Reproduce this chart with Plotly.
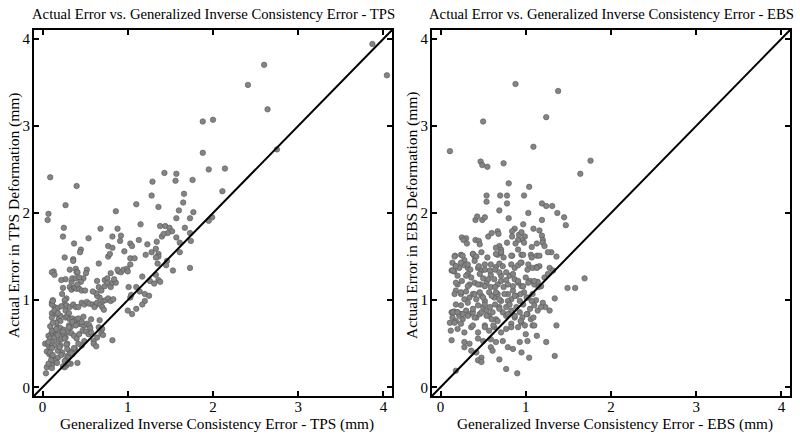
import plotly.graph_objects as go

# ---------------- data ----------------
tps_points = [
    (3.87,3.94),(4.04,3.58),(2.60,3.70),(2.41,3.47),(2.64,3.19),(1.88,3.05),(2.00,3.07),(1.88,2.69),(1.95,2.50),(2.14,2.51),
    (2.75,2.73),(2.11,2.25),(0.09,2.41),(0.40,2.31),(1.43,2.46),(1.57,2.45),(1.29,2.36),(1.56,2.37),(1.76,2.38),(1.28,2.20),(1.66,2.22),
    (0.27,2.09),(0.07,1.99),(0.06,1.92),(1.10,2.10),(1.36,2.07),(1.65,2.12),(1.60,2.03),(1.77,2.01),(1.57,1.94),(1.73,1.94),
    (1.99,1.95),(1.95,1.91),(0.86,2.02),(0.25,1.83),(0.24,1.73),(0.68,1.82),(0.88,1.82),(1.15,1.87),(1.38,1.85),(1.44,1.85),
    (1.49,1.83),(1.52,1.79),(1.47,1.77),(1.67,1.83),(1.73,1.77),(1.74,1.68),(1.61,1.66),(0.37,1.65),(0.54,1.71),(0.82,1.73),
    (0.92,1.74),(0.91,1.68),(1.03,1.65),(1.05,1.62),(1.13,1.69),(1.23,1.64),(1.34,1.67),(1.40,1.73),(1.42,1.76),(1.57,1.72),
    (1.61,1.55),(0.45,1.58),(0.44,1.55),(0.26,1.49),(0.36,1.47),(0.36,1.45),(0.66,1.42),(0.77,1.50),(0.79,1.53),(0.77,1.62),
    (0.82,1.60),(0.96,1.56),(1.03,1.48),(1.08,1.48),(1.03,1.41),(1.21,1.52),(1.28,1.55),(1.33,1.59),(1.36,1.53),(1.36,1.50),
    (1.33,1.49),(1.46,1.45),(1.45,1.40),(1.35,1.42),(1.53,1.34),(1.73,1.37),(0.13,1.33),(0.11,1.32),(0.14,1.29),(0.32,1.35),
    (0.39,1.36),(0.40,1.32),(0.41,1.32),(0.52,1.35),(0.51,1.31),(0.48,1.25),(0.27,1.24),(0.22,1.23),(0.24,1.14),(0.23,1.07),
    (0.28,1.02),(0.26,1.00),(0.32,1.15),(0.34,1.12),(0.37,1.14),(0.38,1.15),(0.40,1.13),(0.43,1.13),(0.46,1.11),(0.50,1.11),
    (0.34,1.21),(0.35,1.25),(0.39,1.25),(0.43,1.26),(0.45,1.21),(0.41,1.18),(0.64,1.22),(0.66,1.15),(0.69,1.11),(0.73,1.16),
    (0.73,1.23),(0.76,1.25),(0.80,1.31),(0.76,1.20),(0.80,1.15),(0.82,1.20),(0.86,1.20),(0.89,1.33),(0.92,1.32),(0.95,1.35),
    (0.99,1.36),(1.00,1.33),(0.84,1.24),(0.88,1.35),(1.01,1.15),(1.03,1.03),(1.04,1.06),(1.10,1.15),(1.14,1.10),(1.20,1.07),
    (1.25,1.05),(1.20,0.99),(1.17,0.95),(1.10,0.90),(1.05,0.84),(1.00,0.88),(1.17,1.27),(1.26,1.22),(1.33,1.29),(1.36,1.23),
    (1.31,1.19),(1.38,1.21),(0.12,1.00),(0.11,0.97),(0.14,0.92),(0.18,0.91),(0.11,0.85),(0.16,0.84),(0.19,0.78),(0.21,0.76),
    (0.26,0.95),(0.28,0.94),(0.32,0.92),(0.36,0.95),(0.39,0.92),(0.42,0.92),(0.46,0.97),(0.49,0.95),(0.52,0.98),(0.55,0.96),
    (0.59,0.95),(0.62,0.94),(0.61,0.92),(0.64,0.97),(0.68,0.95),(0.70,0.92),(0.72,0.89),(0.71,0.99),(0.74,1.00),(0.77,1.02),
    (0.80,0.99),(0.83,1.01),(0.67,1.03),(0.64,1.05),(0.63,1.08),(0.59,1.10),(0.27,0.80),(0.29,0.82),(0.32,0.78),(0.35,0.79),
    (0.37,0.76),(0.40,0.78),(0.43,0.73),(0.46,0.72),(0.49,0.71),(0.52,0.73),(0.55,0.71),(0.56,0.68),(0.57,0.78),(0.67,0.77),
    (0.66,0.69),(0.70,0.67),(0.69,0.62),(0.71,0.60),(0.64,0.57),(0.60,0.53),(0.60,0.50),(0.63,0.47),(0.82,0.54),(0.49,0.53),
    (0.46,0.48),(0.42,0.50),(0.38,0.44),(0.35,0.38),(0.29,0.36),(0.30,0.34),(0.27,0.31),(0.28,0.25),(0.26,0.23),(0.24,0.24),
    (0.33,0.27),(0.41,0.28),(0.32,0.41),(0.18,0.69),(0.15,0.65),(0.12,0.63),(0.10,0.61),(0.07,0.59),(0.09,0.56),(0.12,0.52),
    (0.08,0.46),(0.05,0.41),(0.08,0.38),(0.11,0.34),(0.14,0.32),(0.13,0.29),(0.11,0.26),(0.05,0.23),(0.04,0.16),(0.14,0.48),
    (0.03,0.50),(0.06,0.50),(0.19,0.53),(0.21,0.48),(0.23,0.40),(0.18,0.34),(0.21,0.68),(0.22,0.63),(0.25,0.60),(0.27,0.57),
    (0.31,0.63),(0.34,0.62),(0.37,0.59),(0.40,0.56),(0.43,0.61),(0.47,0.65),(0.51,0.64),(0.54,0.61),(0.57,0.63),(0.33,0.69),
    (0.31,0.71),(0.25,0.66),(0.16,0.74),(0.11,0.80),(0.21,0.82),(0.29,0.50),
    (0.07,0.52),(0.11,0.45),(0.09,0.40),(0.12,0.37),(0.15,0.30),(0.10,0.31),(0.07,0.27),(0.11,0.22),(0.17,0.28),(0.18,0.42),
    (0.20,0.46),(0.22,0.55),(0.14,0.57),(0.11,0.65),(0.09,0.70),(0.12,0.74),(0.16,0.67),(0.18,0.60),(0.24,0.64),(0.26,0.56),
    (0.28,0.49),(0.29,0.44),(0.22,0.37),(0.26,0.30),(0.30,0.28),(0.34,0.39),(0.37,0.45),(0.31,0.69),(0.35,0.75),(0.39,0.71),
    (0.42,0.79),(0.46,0.75),(0.48,0.81),(0.14,0.88),(0.18,0.85),(0.22,0.93),(0.27,0.88),(0.31,0.85),(0.11,0.95),(0.12,0.99),
]

ebs_points = [
    (0.88,3.48),(1.38,3.40),(0.50,3.05),(1.24,3.10),(1.09,2.76),(0.11,2.71),(0.47,2.59),(0.49,2.55),(0.55,2.53),(0.74,2.57),
    (1.76,2.60),(1.64,2.45),(0.80,2.34),(1.04,2.30),
    (0.54,2.20),(0.70,2.20),(0.78,2.20),(0.98,2.20),(0.54,2.13),(0.78,2.11),(0.69,2.03),(1.03,2.00),(1.19,2.11),(1.24,2.08),
    (1.31,2.08),(1.37,2.00),(1.45,1.95),(1.47,1.86),(0.41,1.92),(0.43,1.96),(0.49,1.92),(0.52,1.95),(0.80,1.94),(1.19,1.92),
    (0.97,1.87),(0.87,1.82),(1.09,1.82),(1.16,1.80),(0.56,1.73),(0.60,1.77),(0.67,1.79),(0.68,1.76),(0.84,1.79),(0.84,1.73),
    (0.92,1.75),(0.95,1.78),(0.25,1.72),(0.30,1.71),(0.27,1.69),(0.31,1.65),(0.41,1.69),(0.45,1.68),(0.46,1.64),(0.99,1.73),
    (0.96,1.69),(0.98,1.66),(0.91,1.69),(1.19,1.74),(1.20,1.69),(1.20,1.66),(1.07,1.61),(1.13,1.65),(1.22,1.62),(0.78,1.66),
    (0.88,1.65),(0.91,1.58),(0.69,1.62),(0.65,1.60),(0.71,1.58),(1.30,1.55),
    (0.17,1.51),(0.24,1.52),(0.28,1.46),(0.38,1.53),(0.40,1.50),(0.48,1.55),(0.55,1.49),(0.67,1.52),(0.71,1.54),(0.74,1.49),
    (0.84,1.51),(0.95,1.52),(1.06,1.52),(1.13,1.51),(1.26,1.55),(1.36,1.50),(0.14,1.43),(0.18,1.39),(0.22,1.37),(0.13,1.34),
    (0.28,1.40),(0.32,1.37),(0.35,1.35),(0.44,1.37),(0.48,1.34),(0.52,1.35),(0.59,1.41),(0.65,1.38),(0.69,1.42),(0.73,1.39),
    (0.83,1.41),(0.87,1.37),(0.91,1.40),(0.95,1.43),(1.02,1.35),(1.08,1.37),(1.13,1.38),(1.16,1.39),(1.28,1.37),(1.32,1.34),
    (0.16,1.33),(0.20,1.28),(0.25,1.22),(0.20,1.18),(0.32,1.30),(0.36,1.26),(0.40,1.20),(0.34,1.18),(0.46,1.30),(0.50,1.25),
    (0.47,1.18),(0.54,1.20),(0.59,1.29),(0.63,1.24),(0.67,1.18),(0.59,1.15),(0.71,1.28),(0.77,1.23),(0.81,1.28),(0.74,1.15),
    (0.87,1.24),(0.91,1.20),(0.95,1.16),(0.85,1.11),(1.00,1.26),(1.05,1.22),(1.10,1.18),(1.14,1.21),(1.22,1.26),(1.26,1.30),
    (1.18,1.16),(1.49,1.14),(1.58,1.14),(1.69,1.25),(1.34,1.02),(0.18,1.11),(0.24,1.07),(0.30,1.10),(0.34,1.03),(0.38,1.07),
    (0.42,1.01),(0.48,1.05),(0.52,0.99),(0.57,1.09),(0.63,1.03),(0.67,1.07),(0.71,0.99),(0.79,1.07),(0.83,1.01),(0.89,1.05),
    (0.93,0.99),(0.98,1.09),(1.03,1.03),(1.08,1.07),(1.12,1.00),(1.20,0.97),(1.23,0.92),(1.28,0.88),(1.14,0.88),(1.18,0.92),
    (0.13,0.86),(0.16,0.87),(0.20,0.86),(0.24,0.84),(0.11,0.74),(0.14,0.80),(0.18,0.76),(0.22,0.82),(0.26,0.78),(0.30,0.88),
    (0.34,0.84),(0.38,0.86),(0.42,0.80),(0.46,0.84),(0.50,0.92),(0.54,0.88),(0.57,0.82),(0.61,0.86),(0.65,0.78),(0.69,0.92),
    (0.73,0.86),(0.77,0.82),(0.83,0.88),(0.87,0.80),(0.93,0.86),(0.96,0.80),(1.02,0.84),(1.06,0.78),(1.08,0.71),(1.13,0.59),
    (1.24,0.52),(1.36,0.71),(0.12,0.65),(0.20,0.67),(0.28,0.63),(0.36,0.69),(0.44,0.63),(0.52,0.71),(0.57,0.65),(0.63,0.69),
    (0.71,0.63),(0.77,0.67),(0.83,0.73),(0.91,0.69),(0.95,0.74),(1.00,0.61),(0.13,0.54),(0.28,0.52),(0.34,0.50),(0.44,0.56),
    (0.50,0.53),(0.59,0.55),(0.65,0.52),(0.73,0.53),(0.79,0.46),(0.85,0.44),(0.93,0.52),(1.02,0.53),(0.28,0.46),(0.36,0.42),
    (0.42,0.40),(0.48,0.34),(0.44,0.31),(0.48,0.29),(0.59,0.46),(0.61,0.42),(0.69,0.32),(0.95,0.40),(1.04,0.34),(0.77,0.21),
    (0.90,0.16),(1.34,0.36),(0.18,0.19),
    (0.165,1.50),(0.26,1.51),(0.38,1.53),(0.42,1.50),(0.65,1.53),(0.71,1.55),(0.83,1.51),(0.97,1.52),(1.07,1.49),(1.16,1.51),
    (0.145,1.34),(0.18,1.39),(0.24,1.43),(0.32,1.41),(0.40,1.45),(0.45,1.39),(0.52,1.41),(0.58,1.34),(0.64,1.35),(0.69,1.32),
    (0.77,1.32),(0.85,1.30),(0.94,1.43),(1.03,1.41),(1.13,1.37),
    (0.18,1.20),(0.30,1.28),(0.32,1.16),(0.44,1.18),(0.52,1.16),(0.56,1.24),(0.64,1.15),(0.71,1.22),(0.79,1.18),(0.85,1.16),
    (0.91,1.22),(0.97,1.16),(1.03,1.20),(1.10,1.22),
    (0.165,1.07),(0.24,1.09),(0.28,1.01),(0.40,1.07),(0.46,1.09),(0.50,1.03),(0.60,1.05),(0.65,1.09),(0.69,1.01),(0.75,1.07),
    (0.79,0.99),(0.87,1.05),(0.94,1.07),(1.01,1.03),(1.07,0.99),(1.15,1.15),
    (0.18,0.95),(0.24,0.94),(0.32,0.97),(0.38,0.90),(0.44,0.94),(0.52,0.95),(0.58,0.92),(0.64,0.95),(0.69,0.90),(0.77,0.92),
    (0.81,0.95),(0.89,0.92),(0.97,0.95),(1.05,0.90),(1.10,0.94),
    (0.145,0.86),(0.20,0.86),(0.26,0.84),(0.32,0.82),(0.40,0.80),(0.48,0.86),(0.54,0.82),(0.60,0.78),(0.67,0.76),(0.79,0.84),
    (0.87,0.82),(0.94,0.76),(1.01,0.84),(1.09,0.80),
    (0.165,0.74),(0.24,0.73),(0.38,0.71),(0.52,0.69),(0.62,0.71),(0.83,0.69),(0.99,0.71),(1.10,0.71),
]

tps_x = [p[0] for p in tps_points]
tps_y = [p[1] for p in tps_points]
ebs_x = [p[0] for p in ebs_points]
ebs_y = [p[1] for p in ebs_points]

identity_line = [-0.1, 4.1]
tick_vals = [0, 1, 2, 3, 4]
tick_text = ["0", "1", "2", "3", "4"]
axis_range = [-0.1, 4.1]

titles = ["Actual Error vs. Generalized Inverse Consistency Error - TPS",
          "Actual Error vs. Generalized Inverse Consistency Error - EBS"]
xlabels = ["Generalized Inverse Consistency Error - TPS (mm)",
           "Generalized Inverse Consistency Error - EBS (mm)"]
ylabels = ["Actual Error in TPS Deformation (mm)",
           "Actual Error in EBS Deformation (mm)"]

# ---------------- figure ----------------
FONT = "Liberation Serif, Times New Roman, serif"
W, H = 800, 437


def px_x(p):
    return p / W


def px_y(p):
    return (H - p) / H


x_domains = [[px_x(34), px_x(392)], [px_x(432), px_x(790)]]
y_domain = [px_y(396), px_y(30)]

fig = go.Figure()
marker = dict(size=5.5, color="rgb(132,132,132)", line=dict(color="rgb(88,88,88)", width=0.6))

for i, (xs, ys) in enumerate([(tps_x, tps_y), (ebs_x, ebs_y)]):
    xa = "x" if i == 0 else "x2"
    ya = "y" if i == 0 else "y2"
    fig.add_trace(go.Scatter(x=xs, y=ys, mode="markers", marker=marker,
                             xaxis=xa, yaxis=ya, showlegend=False, hoverinfo="x+y"))
    fig.add_trace(go.Scatter(x=identity_line, y=identity_line, mode="lines",
                             line=dict(color="black", width=2),
                             xaxis=xa, yaxis=ya, showlegend=False, hoverinfo="skip"))

axis_common = dict(range=axis_range, tickvals=tick_vals, ticktext=tick_text,
                   ticks="inside", ticklen=5, tickwidth=1.5, tickcolor="black",
                   showline=True, linewidth=2, linecolor="black", mirror="ticks",
                   showgrid=False, zeroline=False, automargin=False,
                   tickfont=dict(family=FONT, size=15, color="black"))

fig.update_layout(
    width=W, height=H,
    margin=dict(l=0, r=0, t=0, b=0),
    paper_bgcolor="white", plot_bgcolor="white",
    xaxis=dict(domain=x_domains[0], anchor="y", ticklabelstandoff=-4, **axis_common),
    yaxis=dict(domain=y_domain, anchor="x", ticklabelstandoff=-1, **axis_common),
    xaxis2=dict(domain=x_domains[1], anchor="y2", ticklabelstandoff=-4, **axis_common),
    yaxis2=dict(domain=y_domain, anchor="x2", ticklabelstandoff=-1, **axis_common),
)

panel_centers = [213, 611]
ylabel_x = [14, 412]
annotations = []
for i in range(2):
    annotations.append(dict(text=titles[i], x=px_x(panel_centers[i]), y=px_y(14), xref="paper", yref="paper",
                            xanchor="center", yanchor="middle", showarrow=False,
                            font=dict(family=FONT, size=14.7, color="black")))
    annotations.append(dict(text=xlabels[i], x=px_x(panel_centers[i] + 4), y=px_y(424), xref="paper", yref="paper",
                            xanchor="center", yanchor="middle", showarrow=False,
                            font=dict(family=FONT, size=15.3, color="black")))
    annotations.append(dict(text=ylabels[i], x=px_x(ylabel_x[i]), y=px_y(215),
                            xref="paper", yref="paper", xanchor="center", yanchor="middle",
                            textangle=-90, showarrow=False,
                            font=dict(family=FONT, size=15.5, color="black")))
fig.update_layout(annotations=annotations)

# remove the default page margin so the 800x437 figure fills the window exactly
fig.write_html("out.html", config={"displayModeBar": False},
               post_script="document.body.style.margin='0';")
